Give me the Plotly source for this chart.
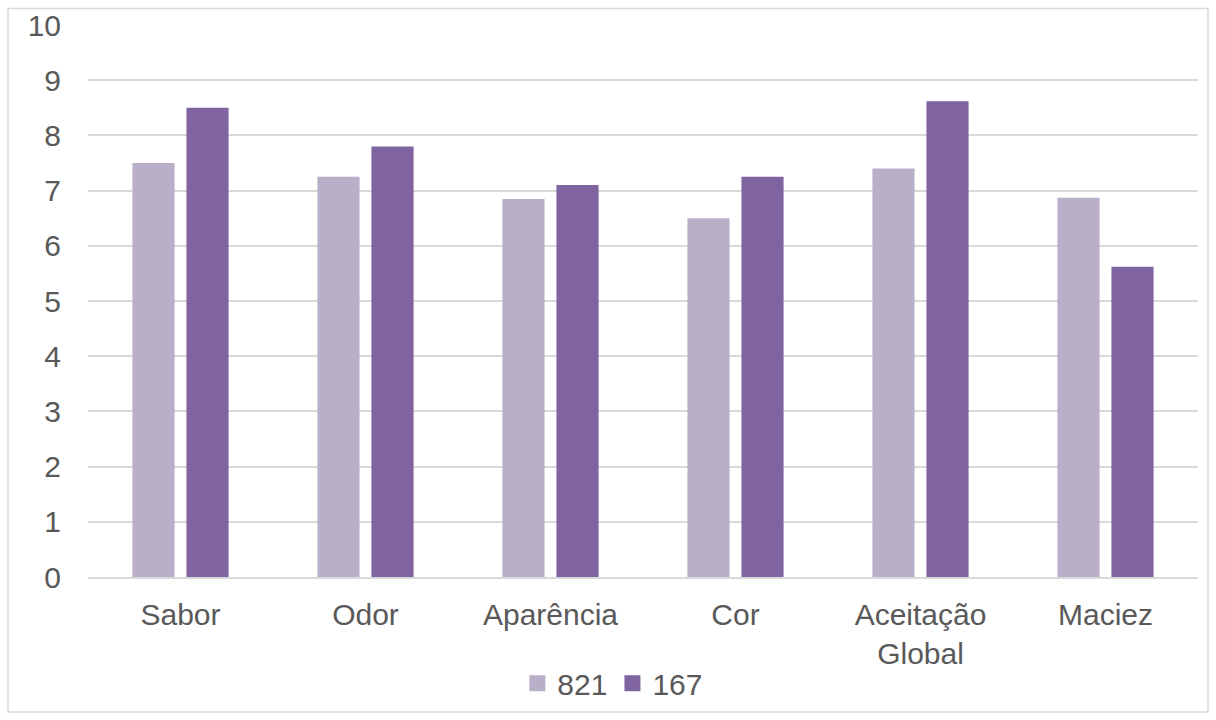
import plotly.graph_objects as go

categories = ["Sabor", "Odor", "Aparência", "Cor", "Aceitação<br>Global", "Maciez"]
s821 = [7.5, 7.25, 6.85, 6.5, 7.4, 6.87]
s167 = [8.5, 7.8, 7.1, 7.25, 8.62, 5.62]
yticks = list(range(0, 11))
series = [("821", s821, "#b9afc9"), ("167", s167, "#8064a2")]

FONT = "Liberation Sans, Arial, sans-serif"
GREY = "#595959"

fig = go.Figure()
for name, vals, col in series:
    fig.add_trace(go.Bar(x=categories, y=vals, name=name, showlegend=False,
                         marker=dict(color=col, line=dict(width=0))))
for name, vals, col in series:
    fig.add_trace(go.Scatter(x=[None], y=[None], mode="markers", name=name,
                             marker=dict(symbol="square", size=17, color=col)))

fig.update_layout(
    width=1216, height=720,
    margin=dict(l=88, r=18, t=25, b=143),
    paper_bgcolor="white", plot_bgcolor="white",
    barmode="group", bargap=0.416, bargroupgap=0.22,
    font=dict(family=FONT, size=30, color=GREY),
    showlegend=True,
    legend=dict(orientation="h", x=0.504, xanchor="center", xref="container",
                y=0.051, yanchor="middle", yref="container", bgcolor="rgba(0,0,0,0)",
                font=dict(size=30, color=GREY, family=FONT), itemwidth=30,
                traceorder="normal", tracegroupgap=0),
    shapes=[dict(type="rect", xref="paper", yref="paper", x0=-80/1110, x1=1.009, y0=-135/552, y1=1.03,
                 line=dict(color="#d9d9d9", width=1.5), fillcolor="rgba(0,0,0,0)", layer="below")],
)
fig.update_xaxes(showline=True, linecolor="#d9d9d9", linewidth=1.5, ticks="", showgrid=False,
                 tickfont=dict(size=30, color=GREY, family=FONT), ticklabelstandoff=10, automargin=False)
fig.update_yaxes(range=[0, 10], tickvals=yticks, showgrid=True, gridcolor="#d9d9d9", gridwidth=1.5,
                 zeroline=False, showline=False, ticks="", ticklabelstandoff=26, automargin=False,
                 tickfont=dict(size=30, color=GREY, family=FONT))

fig.write_html("out.html")
